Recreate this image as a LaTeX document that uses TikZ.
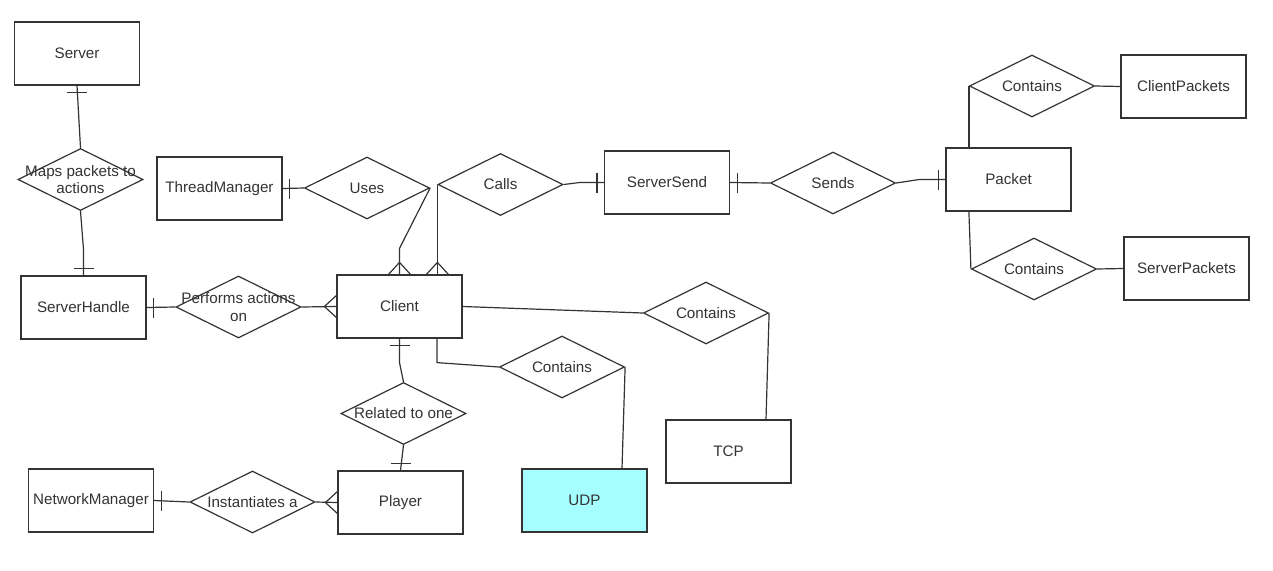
\documentclass[tikz,border=0pt]{standalone}
\usepackage{fontspec}
\setmainfont{Liberation Sans}
\usetikzlibrary{shapes.geometric}
\definecolor{ln}{HTML}{333333}
\definecolor{udpfill}{HTML}{A6FFFF}
\tikzset{
  conn/.style={draw=ln, line width=1.2pt},
  ent/.style={draw=ln, line width=1.2pt, rectangle, minimum width=125pt, minimum height=63pt, inner sep=0pt, font=\fontsize{15.2}{17.5}\selectfont, text=black!80},
  rel/.style={draw=ln, line width=1.2pt, diamond, minimum width=125pt, minimum height=62pt, inner sep=0pt},
  rl/.style={label={[font=\fontsize{15.2}{17.5}\selectfont, text=black!80, align=center]center:#1}},
  crowfoot/.pic={\draw[conn] (0,11) -- (-12,0) -- (0,-11);},
  onetick/.pic={\draw[conn] (-7,-10) -- (-7,10);}
}
\begin{document}
\begin{tikzpicture}[x=1pt, y=-1pt]
\useasboundingbox (0,0) rectangle (1273,570);
% entities
\node[ent] (server) at (77,53.5) {Server};
\node[ent] (tm) at (219.5,188.5) {ThreadManager};
\node[ent] (sh) at (83.5,307.5) {ServerHandle};
\node[ent] (client) at (399.5,306.5) {Client};
\node[ent] (player) at (400.5,502.5) {Player};
\node[ent] (nm) at (91,500.5) {NetworkManager};
\node[ent, fill=udpfill] (udp) at (584.5,500.5) {UDP};
\node[ent] (tcp) at (728.5,451.5) {TCP};
\node[ent] (ss) at (667,182.5) {ServerSend};
\node[ent] (packet) at (1008.5,179.5) {Packet};
\node[ent] (cp) at (1183.5,86.5) {ClientPackets};
\node[ent] (sp) at (1186.5,268.5) {ServerPackets};
% relationships
\node[rel, rl={Maps packets to\\actions}] (maps) at (80.5,179.5) {};
\node[rel, rl={Uses}] (uses) at (367,188) {};
\node[rel, rl={Calls}] (calls) at (500.5,184.5) {};
\node[rel, rl={Sends}] (sends) at (833,183) {};
\node[rel, rl={Contains}] (cpc) at (1032,86) {};
\node[rel, rl={Contains}] (spc) at (1034,269) {};
\node[rel, rl={Performs actions\\on}] (perf) at (238.5,307) {};
\node[rel, rl={Related to one}] (rel1) at (403.5,413.5) {};
\node[rel, rl={Instantiates a}] (inst) at (252.5,502) {};
\node[rel, rl={Contains}] (tcpc) at (706,313) {};
\node[rel, rl={Contains}] (udpc) at (562,367) {};
% connectors
\draw[conn] (server.south) -- (maps.north);
\pic[rotate=90] at (server.south) {onetick};
\draw[conn] (maps.south) -- ([yshift=26]sh.north) -- (sh.north);
\pic[rotate=-90] at (sh.north) {onetick};
\draw[conn] (tm.east) -- (uses.west);
\pic[rotate=180] at (tm.east) {onetick};
\draw[conn] (uses.east) -- ([yshift=26]client.north) -- (client.north);
\pic[rotate=-90] at (client.north) {crowfoot};
\coordinate (cN2) at ([xshift=37.5]client.north);
\draw[conn] (calls.west) -- (calls.west |- cN2) ;
\pic[rotate=-90] at (calls.west |- cN2) {crowfoot};
\draw[conn] (calls.east) -- ([xshift=-24]ss.west) -- (ss.west);
\pic at (ss.west) {onetick};
\draw[conn] (ss.east) -- (sends.west);
\pic[rotate=180] at (ss.east) {onetick};
\draw[conn] (sends.east) -- ([xshift=-26]packet.west) -- (packet.west);
\pic at (packet.west) {onetick};
\draw[conn] (cpc.west |- packet.north) -- (cpc.west);
\draw[conn] (cpc.east) -- (cp.west);
\draw[conn] (cpc.west |- packet.south) -- (spc.west);
\draw[conn] (spc.east) -- (sp.west);
\draw[conn] (client.east) -- (tcpc.west);
\draw[conn] (tcpc.east) -- ([xshift=37.5]tcp.north);
\draw[conn] ([xshift=37.5]client.south) -- ([xshift=37.5,yshift=-24]client.south) -- (udpc.west);
\draw[conn] (udpc.east) -- ([xshift=37.5]udp.north);
\draw[conn] (sh.east) -- (perf.west);
\pic[rotate=180] at (sh.east) {onetick};
\draw[conn] (perf.east) -- (client.west);
\pic at (client.west) {crowfoot};
\draw[conn] (client.south) -- ([yshift=-24]client.south) -- (rel1.north);
\pic[rotate=90] at (client.south) {onetick};
\draw[conn] (rel1.south) -- (player.north);
\pic[rotate=-90] at (player.north) {onetick};
\draw[conn] (nm.east) -- (inst.west);
\pic[rotate=180] at (nm.east) {onetick};
\draw[conn] (inst.east) -- (player.west);
\pic at (player.west) {crowfoot};
\end{tikzpicture}
\end{document}
